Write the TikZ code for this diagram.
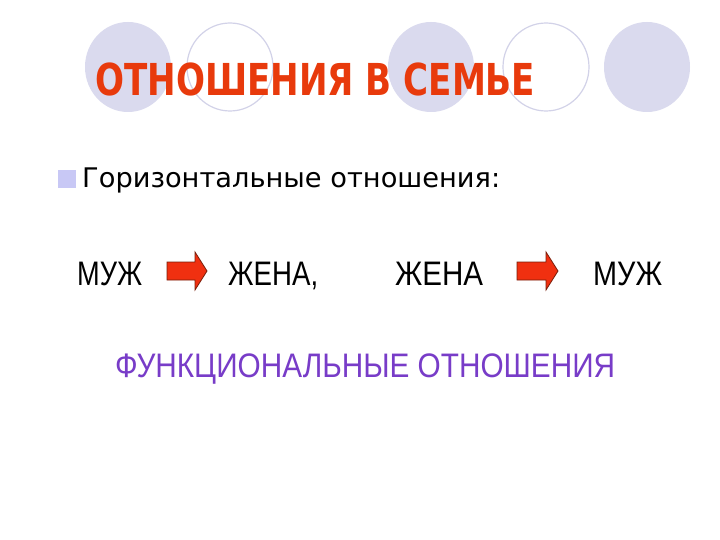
\documentclass[tikz,border=0pt]{standalone}
\usepackage{fontspec}
\usepackage{graphicx}
\setmainfont{DejaVu Sans}
\newfontfamily\titlefont{DejaVu Sans Condensed}
\newfontfamily\purplefont{Liberation Sans}
\definecolor{circfill}{RGB}{218,218,238}
\definecolor{circline}{RGB}{210,210,232}
\definecolor{titlered}{RGB}{232,58,12}
\definecolor{bulletcol}{RGB}{200,200,245}
\definecolor{arrowred}{RGB}{240,48,16}
\definecolor{arrowedge}{RGB}{120,30,10}
\definecolor{funcpurple}{RGB}{120,60,200}
\tikzset{
  fcirc/.style={fill=circfill, draw=none},
  ocirc/.style={fill=white, draw=circline, line width=1.2pt},
  txt/.style={inner sep=0pt, anchor=base west},
  redarrow/.style={fill=arrowred, draw=arrowedge, line width=0.8pt, line join=miter}
}
\begin{document}
\begin{tikzpicture}[x=1pt,y=-1pt]
\useasboundingbox (0,0) rectangle (720,540);
\fill[white] (0,0) rectangle (720,540);
% circles
\path[fcirc] (128,67) ellipse [x radius=43, y radius=45];
\path[ocirc] (230,67) ellipse [x radius=43, y radius=44];
\path[fcirc] (431,67) ellipse [x radius=43, y radius=45];
\path[ocirc] (546,67) ellipse [x radius=43, y radius=44];
\path[fcirc] (647,67) ellipse [x radius=43, y radius=45];
% title
\node[txt, text=titlered] (title) at (95,96) {\resizebox{440pt}{\height}{\titlefont\bfseries\fontsize{44}{50}\selectfont ОТНОШЕНИЯ В СЕМЬЕ}};
% bullet line
\fill[bulletcol] (58,170) rectangle (76,188);
\node[txt] (horiz) at (82,188) {\resizebox{418pt}{\height}{\fontsize{27}{32}\selectfont Горизонтальные отношения:}};
% row
\node[txt] (m1) at (77,285) {\resizebox{65pt}{\height}{\purplefont\fontsize{34}{40}\selectfont МУЖ}};
\node[txt] (w1) at (228,285) {\resizebox{90pt}{\height}{\purplefont\fontsize{34}{40}\selectfont ЖЕНА,}};
\node[txt] (w2) at (395,285) {\resizebox{88pt}{\height}{\purplefont\fontsize{34}{40}\selectfont ЖЕНА}};
\node[txt] (m2) at (593,285) {\resizebox{69pt}{\height}{\purplefont\fontsize{34}{40}\selectfont МУЖ}};
% arrows
\draw[redarrow] (167,262) -- (195,262) -- (195,252) -- (207,271) -- (195,290) -- (195,280) -- (167,280) -- cycle;
\draw[redarrow] (517,262) -- (546,262) -- (546,252) -- (558,271) -- (546,290) -- (546,280) -- (517,280) -- cycle;
% functional
\node[txt, text=funcpurple] (func) at (115,377) {\resizebox{500pt}{\height}{\purplefont\fontsize{34}{40}\selectfont ФУНКЦИОНАЛЬНЫЕ ОТНОШЕНИЯ}};
\end{tikzpicture}
\end{document}
